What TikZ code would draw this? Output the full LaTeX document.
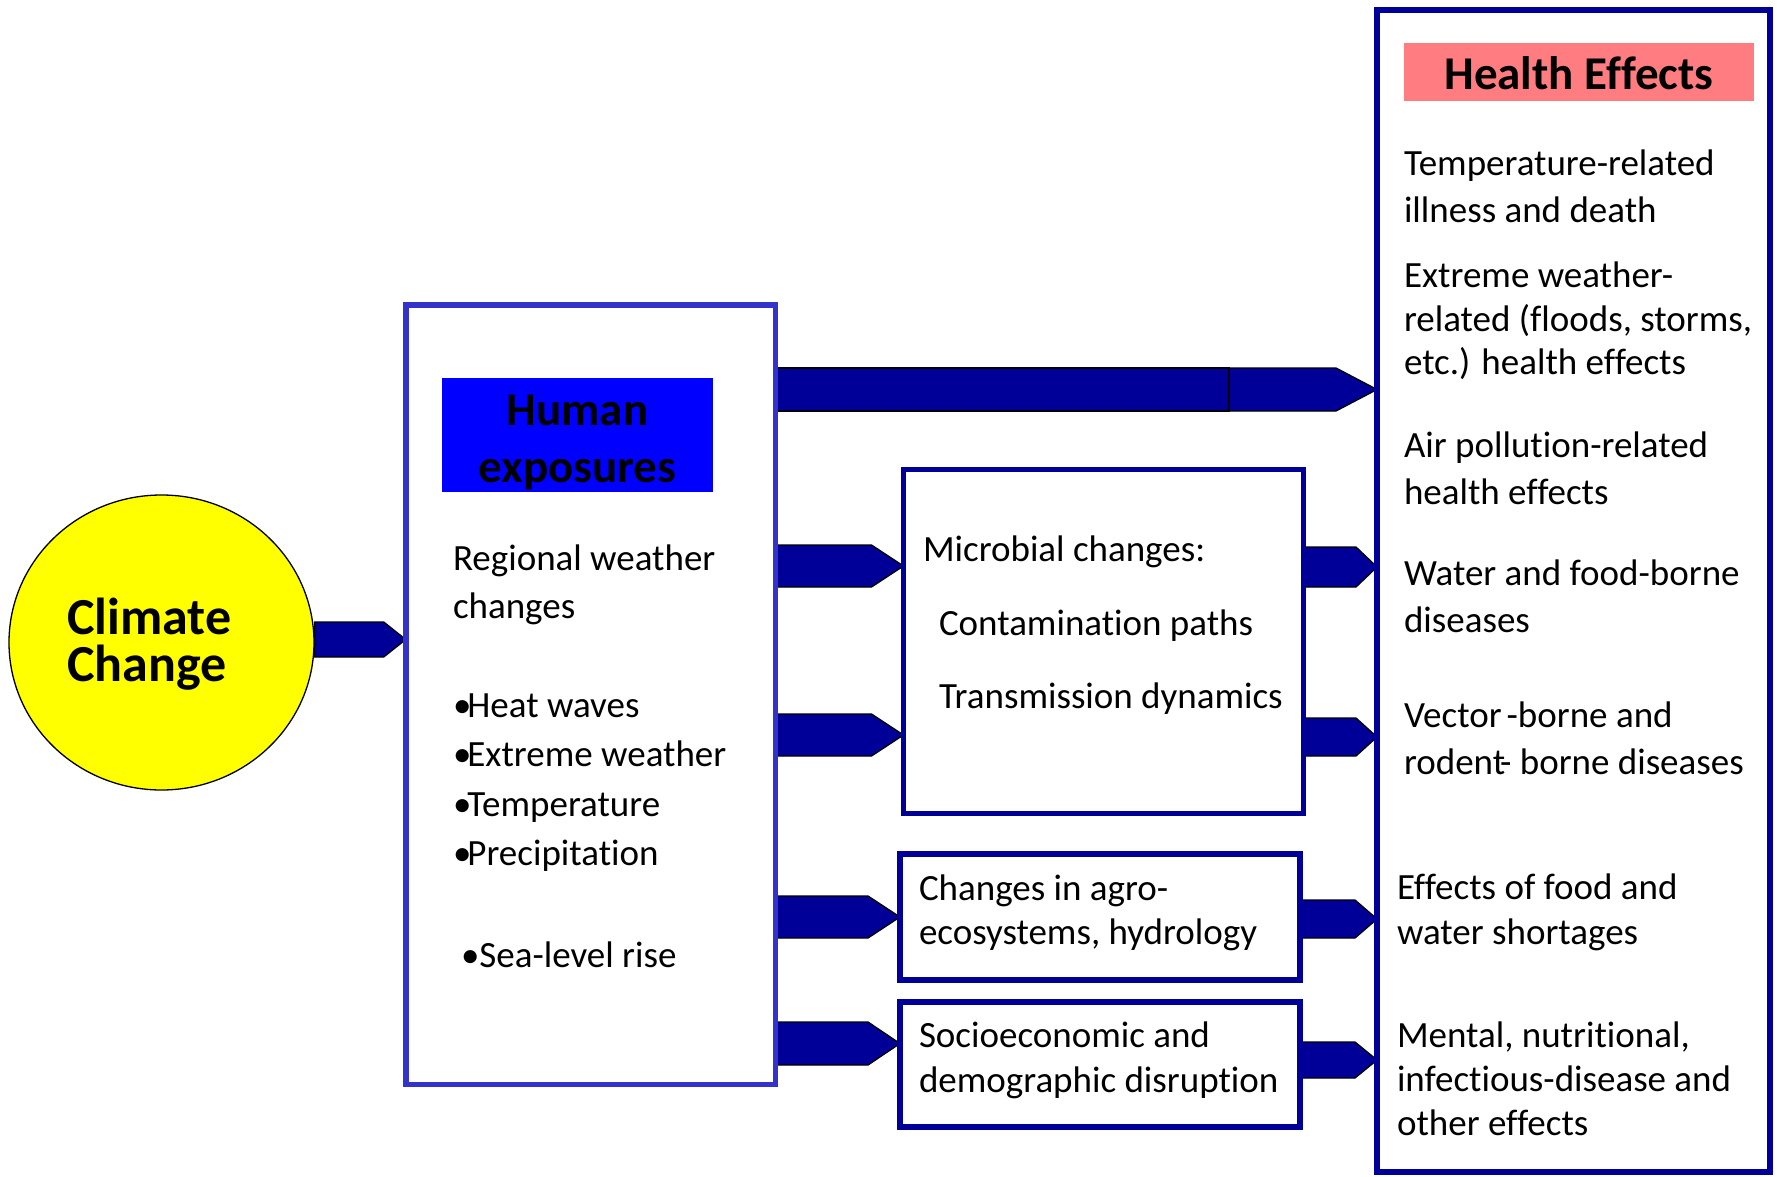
\documentclass[tikz,border=0pt]{standalone}
\usepackage{fontspec}
\setmainfont{Carlito}[Ligatures=NoCommon]
\usetikzlibrary{shapes.geometric,calc,backgrounds}
\definecolor{navy}{RGB}{0,0,153}
\definecolor{lbblue}{RGB}{51,51,204}
\definecolor{hxblue}{RGB}{0,0,255}
\definecolor{salmon}{RGB}{255,124,128}
\definecolor{yel}{RGB}{255,255,0}
\newcommand\stackL[2]{\vtop{\baselineskip=#1\relax\lineskiplimit=-1000pt\lineskip=0pt\halign{##\hfil\cr#2\crcr}}}
\newcommand\stackC[2]{\vtop{\baselineskip=#1\relax\lineskiplimit=-1000pt\lineskip=0pt\halign{\hfil##\hfil\cr#2\crcr}}}
\newcommand\bul{•\kern-4pt}
\begin{document}
\begin{tikzpicture}[x=1pt,y=-1pt,
  box/.style={draw=navy,line width=5.5pt,inner sep=0pt,outer sep=0pt,rectangle},
  body/.style={font=\fontsize{37}{44}\selectfont,inner sep=0pt,outer sep=0pt,anchor=base west,yshift=-2.5pt},
  headtxt/.style={font=\fontsize{47}{56}\selectfont\bfseries,inner sep=0pt,anchor=base,yshift=-2pt},
  barrow/.style n args={2}{draw=black,line width=1.3pt,fill=navy,
     to path={let \p1=(\tikztostart),\p2=(\tikztotarget) in
       (\x1,\y1+#1pt) -- (\x2-#2pt,\y1+#1pt) -- (\x2,\y1) -- (\x2-#2pt,\y1-#1pt) -- (\x1,\y1-#1pt) -- cycle}}]
\useasboundingbox (0,0) rectangle (1777,1177);

% Climate change circle
\node[ellipse,draw=black,line width=1.3pt,fill=yel,minimum width=305pt,minimum height=295pt,inner sep=0pt] (cc) at (161.5,642.5) {};
\node[font=\fontsize{52}{47}\selectfont\bfseries,inner sep=0pt,anchor=base west] (cct) at (67,634) {\stackL{47pt}{Climate\cr Change}};

% Human exposures box
\node[box,draw=lbblue,minimum width=369.5pt,minimum height=779.5pt] (lb) at (590.5,694.5) {};
\node[fill=hxblue,minimum width=271pt,minimum height=114pt,inner sep=0pt] (hx) at (577.5,435) {};
\node[headtxt] (hxt) at (577.5,423) {\stackC{57pt}{Human\cr exposures}};
\node[body] (t1) at (453,568) {\stackL{48pt}{Regional weather\cr changes}};
\node[body] (t2) at (453,715) {\stackL{49.3pt}{\bul Heat waves\cr \bul Extreme weather\cr \bul Temperature\cr \bul Precipitation}};
\node[body] (t3) at (461,965) {•Sea-level rise};

% middle boxes
\node[box,minimum width=400pt,minimum height=344pt] (mb) at (1103.5,641.5) {};
\node[body] (t4) at (923,559) {\stackL{73.5pt}{Microbial changes:\cr \hspace*{16pt}Contamination paths\cr \hspace*{16pt}Transmission dynamics}};
\node[box,minimum width=400pt,minimum height=126pt] (ab) at (1100,917) {};
\node[body] (t5) at (919,898) {\stackL{44pt}{Changes in agro-\cr ecosystems, hydrology}};
\node[box,minimum width=400pt,minimum height=125pt] (sb) at (1100,1064.5) {};
\node[body] (t6) at (919,1045) {\stackL{45pt}{Socioeconomic and\cr demographic disruption}};

% Health effects box
\node[box,line width=6pt,minimum width=393pt,minimum height=1162pt] (hb) at (1573.5,591) {};
\node[fill=salmon,minimum width=350pt,minimum height=58pt,inner sep=0pt] (hh) at (1579,72) {};
\node[headtxt] (hht) at (1579,88) {Health Effects};
\node[body] (e1) at (1404,173) {\stackL{47pt}{Temperature-related\cr illness and death}};
\node[body] (e2) at (1404,285) {\stackL{43.5pt}{Extreme weather-\cr related (floods, storms,\cr etc.) health effects}};
\node[body] (e3) at (1404,455) {\stackL{47pt}{Air pollution-related\cr health effects}};
\node[body] (e4) at (1404,583) {\stackL{47pt}{Water and food-borne\cr diseases}};
\node[body] (e5) at (1404,725) {\stackL{47pt}{Vector\hspace{5pt}-borne and\cr rodent\hspace{-5pt}- borne diseases}};
\node[body] (e6) at (1397,897) {\stackL{45pt}{Effects of food and\cr water shortages}};
\node[body] (e7) at (1397,1045) {\stackL{44pt}{Mental, nutritional,\cr infectious-disease and\cr other effects}};

% arrow levels
\coordinate (y0) at (0,639.5);
\coordinate (yt) at (0,389.5);
\coordinate (tm) at (1229,389.5);
\coordinate (yi1) at (0,566);
\coordinate (yi2) at (0,735);
\coordinate (yi3) at (0,917);
\coordinate (yi4) at (0,1043.5);
\coordinate (yo1) at (0,567);
\coordinate (yo2) at (0,737);
\coordinate (yo3) at (0,919);
\coordinate (yo4) at (0,1060);

\begin{scope}[on background layer]
\fill[white] (0,0) rectangle (1777,1177);
\draw[barrow={17.5}{22}] (cc.east |- y0) to (lb.west |- y0);
\draw[barrow={21.5}{0}] (lb.east |- yt) to (tm);
\draw[barrow={21.5}{41}] (tm) to (hb.west |- yt);
\draw[barrow={21}{32}] (lb.east |- yi1) to (mb.west |- yi1);
\draw[barrow={21}{32}] (lb.east |- yi2) to (mb.west |- yi2);
\draw[barrow={21}{32}] (lb.east |- yi3) to (ab.west |- yi3);
\draw[barrow={21.5}{32}] (lb.east |- yi4) to (sb.west |- yi4);
\draw[barrow={20}{21}] (mb.east |- yo1) to (hb.west |- yo1);
\draw[barrow={19}{21}] (mb.east |- yo2) to (hb.west |- yo2);
\draw[barrow={19}{22}] (ab.east |- yo3) to (hb.west |- yo3);
\draw[barrow={18}{22}] (sb.east |- yo4) to (hb.west |- yo4);
\end{scope}
\end{tikzpicture}
\end{document}
